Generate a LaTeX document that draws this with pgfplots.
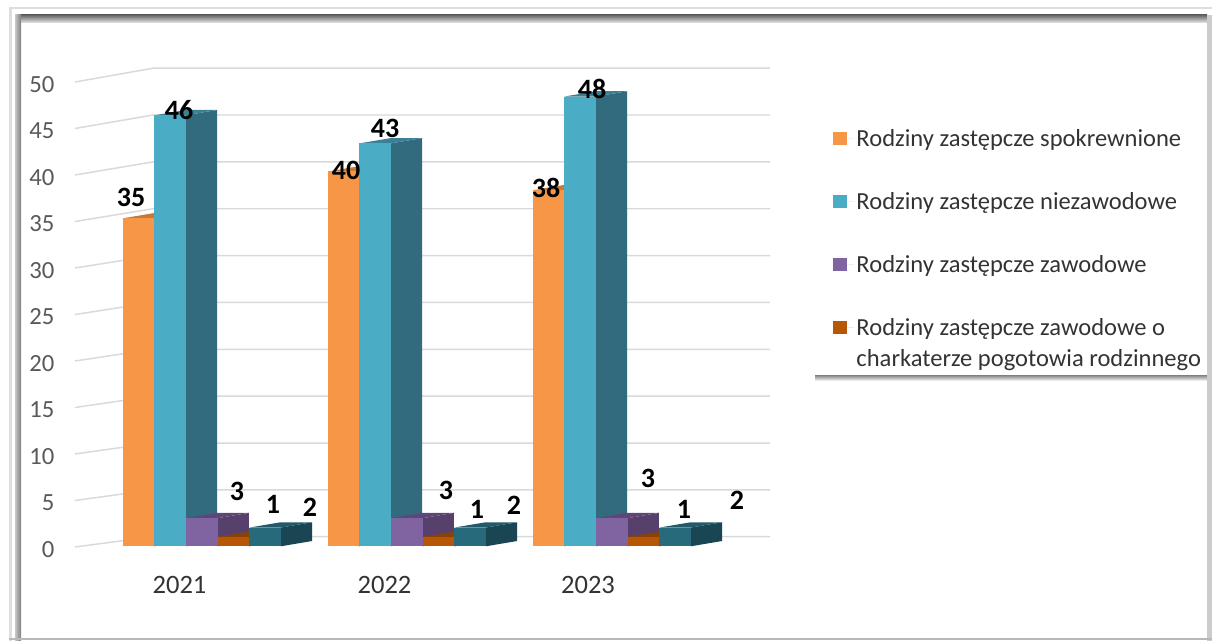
\documentclass[border=0pt]{standalone}
\usepackage{pgfplots}
\pgfplotsset{compat=1.18}
\usepackage{fontspec}
\setmainfont{Carlito}
\definecolor{oF}{HTML}{F79646}\definecolor{oT}{HTML}{C77A35}\definecolor{oS}{HTML}{B5651D}
\definecolor{tF}{HTML}{4BACC6}\definecolor{tT}{HTML}{3B8096}\definecolor{tS}{HTML}{326B7D}
\definecolor{pF}{HTML}{8064A2}\definecolor{pT}{HTML}{5F4679}\definecolor{pS}{HTML}{57406B}
\definecolor{rF}{HTML}{B65708}\definecolor{rT}{HTML}{8A4206}\definecolor{rS}{HTML}{7A3A05}
\definecolor{dF}{HTML}{276A7C}\definecolor{dT}{HTML}{215A6A}\definecolor{dS}{HTML}{1A4552}
\definecolor{gridc}{HTML}{D9D9D9}
% one 3-D bar: x of the left edge, value, colour prefix
\newcommand{\tbar}[3]{%
  \pgfmathsetmacro{\xa}{#1+31.5}\pgfmathsetmacro{\xb}{#1+31.4}\pgfmathsetmacro{\xc}{#1+62.9}%
  \pgfmathsetmacro{\vb}{#2+0.566}%
  \edef\tmp{%
    \noexpand\addplot[fill=#3S,draw=none] coordinates {(\xa,0)(\xc,0.566)(\xc,\vb)(\xa,#2)} -- cycle;
    \noexpand\addplot[fill=#3T,draw=none] coordinates {(#1,#2)(\xa,#2)(\xc,\vb)(\xb,\vb)} -- cycle;
    \noexpand\addplot[fill=#3F,draw=none] coordinates {(#1,0)(\xa,0)(\xa,#2)(#1,#2)} -- cycle;
  }\tmp}
\newcommand{\gline}[2]{\addplot[gridc,line width=1.1pt] coordinates {(75,#1)(153,#2)(770,#2)};}
\newcommand{\lab}[3]{\node[font=\fontsize{21}{22}\selectfont\bfseries,text=black,inner sep=0pt] at (#1,#2) {#3};}
\begin{document}
\begin{tikzpicture}
\path[use as bounding box] (0,0) rectangle (909pt,-480.75pt);
\begin{scope}[x=.75pt,y=-.75pt]
% legend box with its shadow
\shade[top color=black!50,bottom color=white] (815,375) rectangle (1208,381);
% frame
\fill[black!13] (9,7) rectangle (1212,9.5);
\fill[black!13] (9,7) rectangle (12,641);
\shade[top color=black!60,bottom color=black!8] (15,15) rectangle (1207,23);
\shade[left color=black!22,right color=black!50] (15,15) rectangle (21,641);
\fill[black!20] (1207,15) rectangle (1212,641);
\fill[black!28] (9,638) rectangle (1212,640);
\end{scope}
\begin{axis}[at={(0,-480.75pt)},anchor=south west,scale only axis,width=909pt,height=480.75pt,
  xmin=0,xmax=1212,ymin=-10.108,ymax=58.817,
  axis line style={draw=none},tick style={draw=none},
  ytick={0,5,...,50},xtick={179.5,384.5,588},xticklabels={2021,2022,2023},
  /pgf/number format/assume math mode=true,
  yticklabel style={font=\fontsize{18.5}{20}\selectfont,text=black!65,anchor=east,xshift=44.25pt,yshift=-1.8pt},
  xticklabel style={font=\fontsize{19.9}{22}\selectfont,text=black!80,anchor=center,yshift=42pt},
  clip=false]
\gline{0}{1.11}\gline{5}{6.15}\gline{10}{11.18}\gline{15}{16.22}\gline{20}{21.26}
\gline{25}{26.30}\gline{30}{31.33}\gline{35}{36.37}\gline{40}{41.41}\gline{45}{46.45}\gline{50}{51.48}
\end{axis}
\begin{axis}[at={(0,-480.75pt)},anchor=south west,scale only axis,width=909pt,height=480.75pt,
  xmin=0,xmax=1212,ymin=-10.107,ymax=58.303,hide axis,clip=false,
  legend cell align=left,
  legend style={at={(0.6873,0.803)},anchor=north west,draw=none,fill=none,
    text=black!80,
    font=\fontsize{18.4}{23.25}\selectfont,row sep=29pt,inner sep=0pt},
  legend image code/.code={\fill[#1] (0pt,-4.9pt) rectangle (10pt,4.9pt);\path (0pt,0pt) -- (15.4pt,0pt);}]
\addlegendimage{fill=oF,draw=none}\addlegendentry{Rodziny zastępcze spokrewnione}
\addlegendimage{fill=tF,draw=none}\addlegendentry{Rodziny zastępcze niezawodowe}
\addlegendimage{fill=pF,draw=none}\addlegendentry{Rodziny zastępcze zawodowe}
\addlegendimage{fill=rF,draw=none}\addlegendentry{\raisebox{0pt}[12.7pt][0pt]{\begin{tabular}[t]{@{}l@{}}Rodziny zastępcze zawodowe o\\charkaterze pogotowia rodzinnego\end{tabular}}}
% 2021
\tbar{122.7}{35}{o}\tbar{154.3}{46}{t}\tbar{186}{3}{p}\tbar{217.7}{1}{r}\tbar{249.3}{2}{d}
% 2022
\tbar{327.7}{40}{o}\tbar{359.3}{43}{t}\tbar{391}{3}{p}\tbar{422.7}{1}{r}\tbar{454.3}{2}{d}
% 2023
\tbar{532.7}{38}{o}\tbar{564.3}{48}{t}\tbar{596}{3}{p}\tbar{627.7}{1}{r}\tbar{659.3}{2}{d}
\end{axis}
\begin{scope}[x=.75pt,y=-.75pt]
\lab{131}{197}{35}\lab{179}{110}{46}\lab{237}{491}{3}\lab{273}{504}{1}\lab{310}{507}{2}
\lab{346}{170}{40}\lab{385}{128}{43}\lab{446}{490}{3}\lab{477}{509}{1}\lab{514}{505}{2}
\lab{546}{188}{38}\lab{592}{89}{48}\lab{648}{478}{3}\lab{684}{509}{1}\lab{737}{500}{2}
\end{scope}
\end{tikzpicture}
\end{document}
